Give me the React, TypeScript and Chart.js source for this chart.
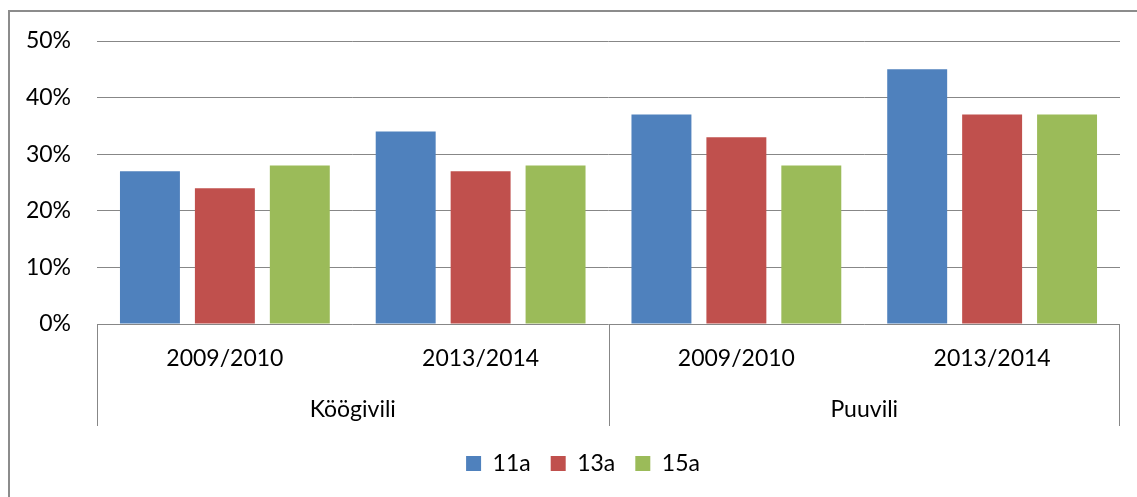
import React, { useEffect, useRef } from 'react';
import { Chart, registerables } from 'chart.js';

Chart.register(...registerables);

const categories = ['2009/2010', '2013/2014', '2009/2010', '2013/2014'];
const groupLabels = ['Köögivili', 'Puuvili'];
const seriesNames = ['11a', '13a', '15a'];
const values11a = [27, 34, 37, 45];
const values13a = [24, 27, 33, 37];
const values15a = [28, 28, 28, 37];
const seriesColors = ['#4F81BD', '#C0504D', '#9BBB59'];
const yMin = 0;
const yMax = 50;
const yStep = 10;

const FONT = 'Lato, "Open Sans", sans-serif';
const FONT_SIZE = 23;
const LINE_COLOR = '#878787';

const multiLevelAxis = {
  id: 'multiLevelAxis',
  afterLayout(chart: any) {
    const l = chart.legend;
    if (l) {
      l.left += 23;
      l.right += 23;
    }
  },
  beforeDraw(chart: any) {
    const ctx = chart.ctx;
    ctx.save();
    ctx.strokeStyle = '#8c8c8c';
    ctx.lineWidth = 2;
    ctx.beginPath();
    ctx.moveTo(9, chart.height);
    ctx.lineTo(9, 11);
    ctx.lineTo(chart.width, 11);
    ctx.stroke();
    ctx.restore();
  },
  afterDraw(chart: any) {
    const ctx = chart.ctx;
    const x = chart.scales.x;
    const area = chart.chartArea;
    const bottom = area.bottom;
    ctx.save();
    ctx.strokeStyle = LINE_COLOR;
    ctx.lineWidth = 1;
    const p0 = x.getPixelForValue(0);
    const p1 = x.getPixelForValue(1);
    const p2 = x.getPixelForValue(2);
    const p3 = x.getPixelForValue(3);
    const mid = Math.round((p1 + p2) / 2) + 0.5;
    const seps = [Math.round(area.left) + 0.5, mid, Math.round(area.right) - 0.5];
    ctx.beginPath();
    seps.forEach((sx) => {
      ctx.moveTo(sx, bottom);
      ctx.lineTo(sx, bottom + 102);
    });
    ctx.stroke();
    ctx.fillStyle = '#000';
    ctx.font = `${FONT_SIZE}px ${FONT}`;
    ctx.textAlign = 'center';
    ctx.textBaseline = 'middle';
    categories.forEach((c, i) => {
      ctx.fillText(c, x.getPixelForValue(i), bottom + 35);
    });
    ctx.fillText(groupLabels[0], (p0 + p1) / 2, bottom + 86);
    ctx.fillText(groupLabels[1], (p2 + p3) / 2, bottom + 86);
    ctx.restore();
  },
};

export default function App() {
  const ref = useRef<HTMLCanvasElement | null>(null);
  useEffect(() => {
    document.body.style.margin = '0';
    const canvas = ref.current;
    if (!canvas) return;
    const valueSets = [values11a, values13a, values15a];
    const chart = new Chart(canvas, {
      type: 'bar',
      data: {
        labels: categories,
        datasets: seriesNames.map((name, i) => ({
          label: name,
          data: valueSets[i],
          backgroundColor: seriesColors[i],
          borderWidth: 0,
          categoryPercentage: 0.879,
          barPercentage: 0.8,
        })),
      },
      options: {
        responsive: false,
        animation: false,
        devicePixelRatio: 1,
        layout: { padding: { left: 0, right: 17, top: 41, bottom: 12 } },
        plugins: {
          legend: {
            display: true,
            position: 'bottom',
            labels: {
              boxWidth: 15,
              boxHeight: 15,
              padding: 20,
              color: '#000',
              font: { family: FONT, size: FONT_SIZE },
            },
          },
          tooltip: { enabled: false },
        },
        scales: {
          x: {
            grid: { display: false },
            border: { display: false },
            ticks: { display: false },
            afterFit: (scale: any) => {
              scale.height = 108;
            },
          },
          y: {
            min: yMin,
            max: yMax,
            grid: { color: LINE_COLOR, drawTicks: false, lineWidth: 1 },
            border: { display: false },
            ticks: {
              stepSize: yStep,
              padding: 26,
              color: '#000',
              font: { family: FONT, size: FONT_SIZE },
              callback: (v: any) => `${v}%`,
            },
            afterFit: (scale: any) => {
              scale.width = 97;
            },
          },
        },
      },
      plugins: [multiLevelAxis],
    });
    return () => chart.destroy();
  }, []);
  return (
    <div style={{ position: 'absolute', left: 0, top: 0, width: 1137, height: 497, background: '#fff' }}>
      <canvas ref={ref} width={1137} height={497} style={{ display: 'block' }} />
    </div>
  );
}
